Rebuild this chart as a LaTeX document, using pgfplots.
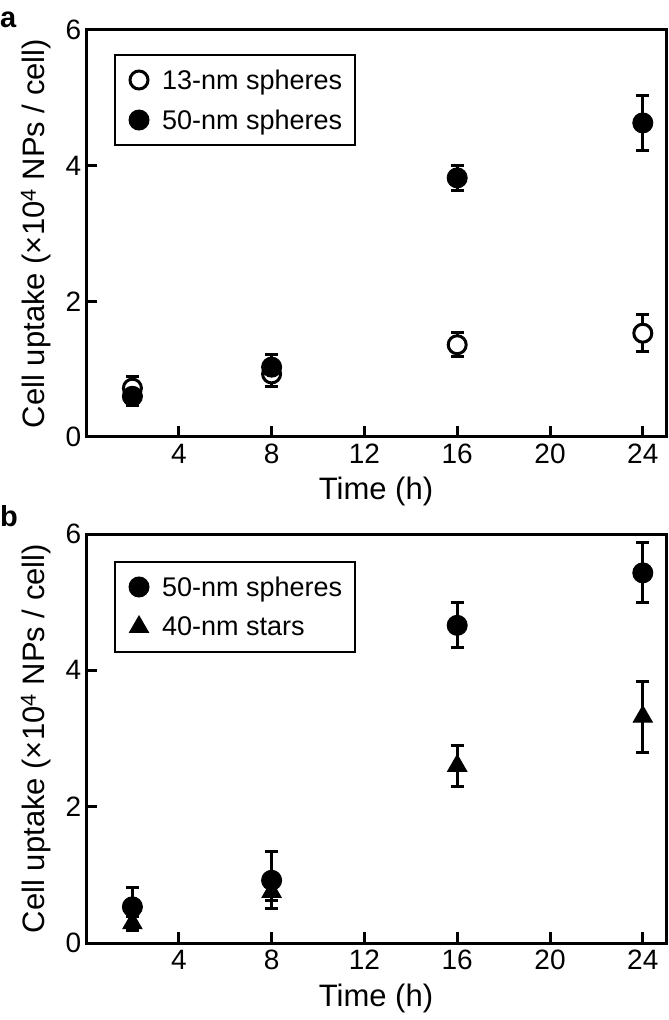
\documentclass[border=0pt]{standalone}
\usepackage{fontspec}
\setmainfont{Liberation Sans}
\usepackage{pgfplots}
\usepackage{pgfplotstable}
\pgfplotsset{compat=1.18}

% Panel a: 13-nm spheres
\pgfplotstableread{
x y e
2 0.72 0.17
8 0.93 0.19
16 1.36 0.18
24 1.53 0.27
}\tabAa
% Panel a: 50-nm spheres
\pgfplotstableread{
x y e
2 0.60 0.13
8 1.03 0.18
16 3.82 0.18
24 4.63 0.40
}\tabAb
% Panel b: 50-nm spheres
\pgfplotstableread{
x y e
2 0.53 0.29
8 0.92 0.42
16 4.66 0.33
24 5.43 0.44
}\tabBa
% Panel b: 40-nm stars
\pgfplotstableread{
x y e
2 0.29 0.10
8 0.75 0.12
16 2.60 0.30
24 3.32 0.52
}\tabBb

\begin{document}
\begin{tikzpicture}
\pgfplotsset{panel/.style={
  scale only axis, width=580pt, anchor=south west,
  xmin=0, xmax=25, ymin=0, ymax=6,
  xtick={4,8,12,16,20,24}, ytick={0,2,4,6},
  tick align=inside, xtick pos=left, ytick pos=left,
  major tick length=11pt,
  line width=3pt,
  axis line style={line width=3pt},
  every tick/.style={black, line width=3pt},
  /pgf/number format/assume math mode=true,
  tick label style={font=\fontsize{28}{30}\selectfont, black},
  xticklabel style={yshift=-2pt},
  xlabel={Time (h)},
  ylabel={Cell uptake (×10\textsuperscript{4} NPs / cell)},
  label style={font=\fontsize{31}{34}\selectfont},
  xlabel style={at={([yshift=-63pt]axis description cs:0.5,0)}, anchor=base},
  ylabel style={at={([xshift=-41pt]axis description cs:0,0.5)}, anchor=base},
  legend cell align=left,
  legend image code/.code={\path[draw=none, fill=none] (-11pt,-11pt) rectangle (11pt,11pt);
    \draw[##1] plot coordinates {(0pt,0pt)};},
  legend style={anchor=north west, draw=black, line width=2pt, fill=white,
    font=\fontsize{27}{30}\selectfont, inner xsep=13pt, inner ysep=14pt, row sep=18pt,
    nodes={inner sep=0pt},
    /tikz/every odd column/.append style={column sep=12pt}},
}}
\pgfplotsset{ebars/.style={
  error bars/.cd, y dir=both, y explicit,
  error bar style={line width=3pt, black},
  error mark options={rotate=90, mark size=6.5pt, line width=3pt, black}}}

\begin{axis}[panel, at={(86pt,583pt)}, height=407pt, legend style={at={(0.0483,0.941)}}]
\addplot[only marks, mark=*, mark size=9pt, mark options={draw=black, fill=white, line width=3pt}, ebars]
  table[x=x, y=y, y error=e]{\tabAa};
\addlegendentry{13-nm spheres}
\addplot[only marks, mark=*, mark size=10pt, mark options={draw=black, fill=black, line width=1pt}, ebars]
  table[x=x, y=y, y error=e]{\tabAb};
\addlegendentry{50-nm spheres}
\end{axis}

\begin{axis}[panel, at={(86pt,77pt)}, height=409pt, legend style={at={(0.0483,0.934)}}]
\addplot[only marks, mark=*, mark size=10pt, mark options={draw=black, fill=black, line width=1pt}, ebars]
  table[x=x, y=y, y error=e]{\tabBa};
\addlegendentry{50-nm spheres}
\addplot[only marks, mark=triangle*, mark size=11pt, mark options={draw=black, fill=black, line width=1pt}, ebars]
  table[x=x, y=y, y error=e]{\tabBb};
\addlegendentry{40-nm stars}
\end{axis}

\node[anchor=base west, inner sep=0pt, font=\fontsize{29}{30}\selectfont\bfseries] at (0pt,992pt) {a};
\node[anchor=base west, inner sep=0pt, font=\fontsize{29}{30}\selectfont\bfseries] at (0pt,493pt) {b};

\pgfresetboundingbox
\useasboundingbox (0pt,0pt) rectangle (669pt,1020pt);
\end{tikzpicture}
\end{document}
